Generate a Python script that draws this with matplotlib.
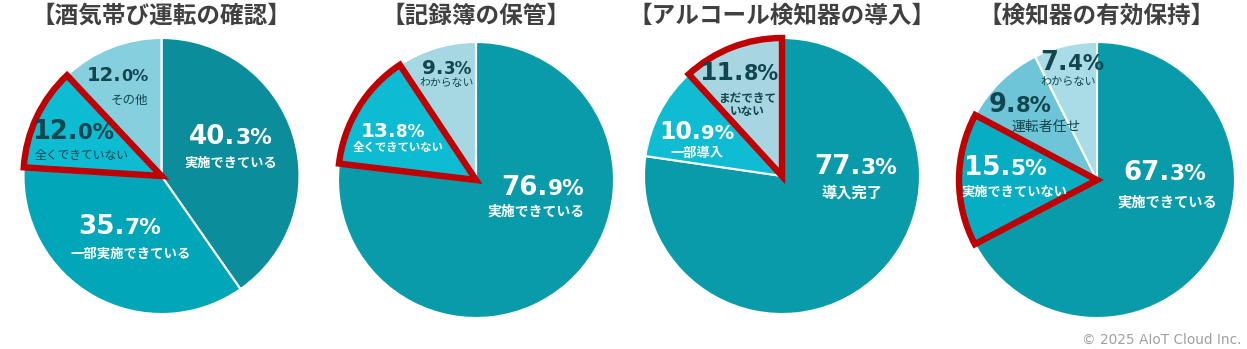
import matplotlib
matplotlib.use('Agg')
import matplotlib.pyplot as plt
from matplotlib.patches import Wedge
from matplotlib.offsetbox import TextArea, HPacker, AnnotationBbox

plt.rcParams['font.family'] = ['Noto Sans CJK JP', 'DejaVu Sans']

titles = ['【酒気帯び運転の確認】', '【記録簿の保管】', '【アルコール検知器の導入】', '【検知器の有効保持】']

labels_1 = ['実施できている', '一部実施できている', '全くできていない', 'その他']
values_1 = [40.3, 35.7, 12.0, 12.0]
labels_2 = ['実施できている', '全くできていない', 'わからない']
values_2 = [76.9, 13.8, 9.3]
labels_3 = ['導入完了', '一部導入', 'まだできて\nいない']
values_3 = [77.3, 10.9, 11.8]
labels_4 = ['実施できている', '実施できていない', '運転者任せ', 'わからない']
values_4 = [67.3, 15.5, 9.8, 7.4]

# slice that gets the red outline in each pie
highlight = [2, 1, 2, 1]

W, H = 1247, 349
R = 138
DARK = '#11464E'

styles = [
    dict(center=(161.5, 176),
         colors=['#0B8D9B', '#01A6B8', '#0DBBD3', '#86CFDE'],
         text=['white', 'white', DARK, DARK],
         pct_size=[18.8, 18.8, 18.5, 14],
         cat_size=[9.5, 9.6, 8.5, 9],
         cat_bold=[True, True, False, False],
         pct_pos=[(0.50, 0.28), (-0.30, -0.37), (-0.64, 0.32), (-0.315, 0.73)],
         cat_pos=[(0.50, 0.094), (-0.22, -0.56), (-0.58, 0.15), (-0.235, 0.55)]),
    dict(center=(476, 180),
         colors=['#0A9BAA', '#0DBBD3', '#A5D8E2'],
         text=['white', 'white', DARK],
         pct_size=[18.8, 14.5, 14.5],
         cat_size=[10, 8.2, 7.8],
         cat_bold=[True, True, False],
         pct_pos=[(0.485, -0.058), (-0.605, 0.348), (-0.21, 0.81)],
         cat_pos=[(0.435, -0.225), (-0.565, 0.232), (-0.21, 0.70)]),
    dict(center=(782, 176),
         colors=['#0A9BAA', '#10BCD2', '#A8D6E0'],
         text=['white', 'white', DARK],
         pct_size=[18.8, 17, 18],
         cat_size=[11, 9.5, 8.4],
         cat_bold=[True, True, True],
         pct_pos=[(0.536, 0.065), (-0.616, 0.319), (-0.31, 0.746)],
         cat_pos=[(0.507, -0.123), (-0.616, 0.167), (-0.25, 0.514)]),
    dict(center=(1097, 180),
         colors=['#0A9BAA', '#07AEC3', '#6EC5D7', '#A9DCE6'],
         text=['white', 'white', DARK, DARK],
         pct_size=[18.8, 18.8, 18.5, 18.5],
         cat_size=[10.3, 9.5, 10, 8],
         cat_bold=[True, True, False, False],
         pct_pos=[(0.493, 0.05), (-0.66, 0.087), (-0.558, 0.543), (-0.18, 0.848)],
         cat_pos=[(0.507, -0.16), (-0.60, -0.087), (-0.37, 0.384), (-0.21, 0.71)]),
]

all_labels = [labels_1, labels_2, labels_3, labels_4]
all_values = [values_1, values_2, values_3, values_4]

fig = plt.figure(figsize=(W / 100, H / 100), dpi=100)
fig.patch.set_facecolor('white')

half = 1.15 * R
for title, labels, values, hi, st in zip(titles, all_labels, all_values, highlight, styles):
    cx, cy = st['center']
    ax = fig.add_axes([(cx - half) / W, (H - cy - half) / H, 2 * half / W, 2 * half / H])
    wedges, _ = ax.pie(values, colors=st['colors'], startangle=90, counterclock=False,
                       radius=1, wedgeprops=dict(edgecolor='white', linewidth=1.5))
    ax.set_xlim(-1.15, 1.15)
    ax.set_ylim(-1.15, 1.15)
    ax.axis('off')

    w = wedges[hi]
    ax.add_patch(Wedge(w.center, w.r, w.theta1, w.theta2, fill=False,
                       edgecolor='#C00000', linewidth=4.6, joinstyle='miter',
                       clip_on=False, zorder=5))

    for i, (lab, v) in enumerate(zip(labels, values)):
        whole, dec = f'{v:.1f}%'.split('.')
        col = st['text'][i]
        size = st['pct_size'][i]
        big = TextArea(whole + '.', textprops=dict(fontsize=size, fontweight='bold',
                                                   color=col, family='DejaVu Sans'))
        small = TextArea(dec, textprops=dict(fontsize=size * 0.83, fontweight='bold',
                                             color=col, family='DejaVu Sans'))
        pack = HPacker(children=[big, small], align='baseline', pad=0, sep=0)
        ab = AnnotationBbox(pack, st['pct_pos'][i], xycoords='data', frameon=False,
                            box_alignment=(0.5, 0.5), pad=0, zorder=6)
        ax.add_artist(ab)
        ax.text(*st['cat_pos'][i], lab, ha='center', va='center', color=col,
                fontsize=st['cat_size'][i], linespacing=1.0,
                fontweight='bold' if st['cat_bold'][i] else 'normal', zorder=6)

    fig.text(cx / W, 1 - 16 / H, title, ha='center', va='center', fontsize=17,
             fontweight='bold', color='#404040')

fig.text(1242 / W, 1 - 340 / H, '© 2025 AIoT Cloud Inc.', ha='right', va='center',
         fontsize=9.8, color='#A0A0A0', family='DejaVu Sans')

fig.savefig('out.png', dpi=100)
